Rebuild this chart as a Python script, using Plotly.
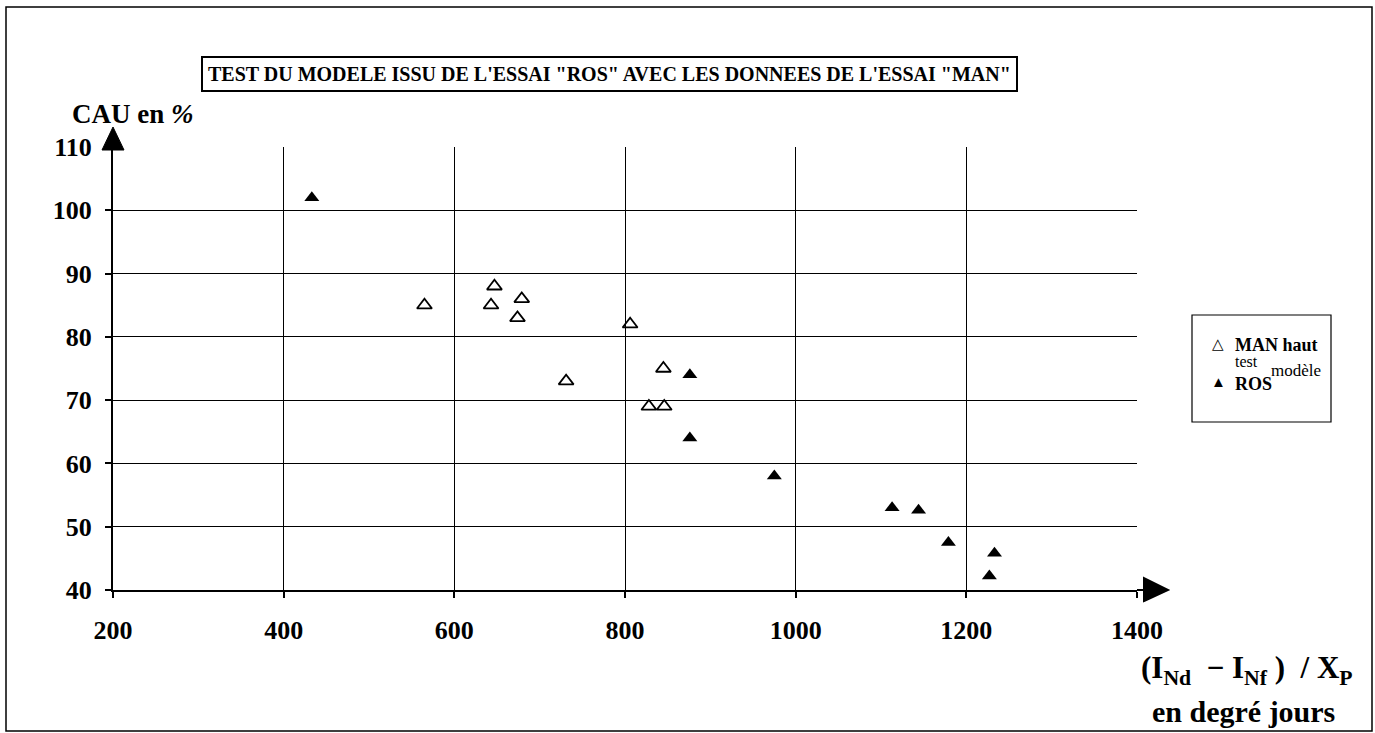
import plotly.graph_objects as go

# MAN haut (test) - open triangles
man_x = [565, 647, 643, 679, 674, 806, 845, 731, 828, 846]
man_y = [85, 88, 85, 86, 83, 82, 75, 73, 69, 69]

# ROS (modele) - filled triangles
ros_x = [433, 876, 876, 975, 1113, 1144, 1179, 1233, 1227]
ros_y = [102, 74, 64, 58, 53, 52.6, 47.5, 45.8, 42.2]

x_ticks = [200, 400, 600, 800, 1000, 1200, 1400]
y_ticks = [40, 50, 60, 70, 80, 90, 100, 110]

title_text = 'TEST DU MODELE ISSU DE L\'ESSAI "ROS" AVEC LES DONNEES DE L\'ESSAI "MAN"'

FONT = "Liberation Serif"
W, H = 1375, 733
L, R, T, B = 113, 1137, 147, 590  # plot area in pixels


def px(x, y):
    """pixel position -> paper coords"""
    return (x - L) / (R - L), (B - y) / (B - T)


def label(x, y, text, size, anchor="left", **kw):
    ax_, ay_ = px(x, y)
    fig.add_annotation(xref="paper", yref="paper", x=ax_, y=ay_, xanchor=anchor, yanchor="middle",
                       showarrow=False, text=text,
                       font=dict(family=FONT, size=size, color="black"), **kw)


fig = go.Figure()
fig.add_trace(go.Scatter(
    x=man_x, y=man_y, mode="markers", name="MAN haut test",
    marker=dict(symbol="triangle-up-open", size=13, color="black", line=dict(width=1.8, color="black")),
))
fig.add_trace(go.Scatter(
    x=ros_x, y=ros_y, mode="markers", name="ROS modèle",
    marker=dict(symbol="triangle-up", size=13, color="black"),
))

axis_common = dict(
    showgrid=True, gridcolor="black", gridwidth=1.4,
    showline=True, linecolor="black", linewidth=2,
    ticks="outside", ticklen=6, tickcolor="black", tickwidth=1.5,
    tickfont=dict(family=FONT, size=26, color="black", weight="bold"),
    zeroline=False,
)

fig.update_layout(
    width=W, height=H,
    margin=dict(l=L, r=W - R, t=T, b=H - B),
    paper_bgcolor="white", plot_bgcolor="white",
    font=dict(family=FONT, color="black"),
    xaxis=dict(range=[200, 1400], tickvals=x_ticks, ticklabelstandoff=10, **axis_common),
    yaxis=dict(range=[40, 110], tickvals=y_ticks, ticklabelstandoff=8, **axis_common),
    showlegend=False,
)

# arrow heads on the axes
fig.add_shape(type="path", xref="paper", yref="paper", xsizemode="pixel", ysizemode="pixel",
              xanchor=0, yanchor=1, path="M -11,-3 L 11,-3 L 0,20 Z",
              fillcolor="black", line=dict(color="black", width=1))
fig.add_shape(type="path", xref="paper", yref="paper", xsizemode="pixel", ysizemode="pixel",
              xanchor=1, yanchor=0, path="M 0,0 L 7,0 M 7,-11 L 31,0 L 7,12 Z",
              fillcolor="black", line=dict(color="black", width=2))

# legend box
x0, y0 = px(1192, 422)
x1, y1 = px(1331, 315)
fig.add_shape(type="rect", xref="paper", yref="paper", x0=x0, y0=y0, x1=x1, y1=y1,
              line=dict(color="black", width=1.2), fillcolor="rgba(0,0,0,0)")

# legend entries
label(1218, 344, "△", 15, anchor="center")
label(1233, 345, "<b>MAN haut</b>", 18)
label(1233, 361, "test", 16)
label(1218, 382, "▲", 15, anchor="center")
label(1233, 384, "<b>ROS</b>", 18)
label(1269, 370, "modèle", 17)

# outer frame
x0, y0 = px(6, 731)
x1, y1 = px(1372, 7)
fig.add_shape(type="rect", xref="paper", yref="paper", x0=x0, y0=y0, x1=x1, y1=y1,
              line=dict(color="black", width=1.5), fillcolor="rgba(0,0,0,0)")

# title box
label(609, 74, "<b>" + title_text + "</b>", 20, anchor="center",
      bordercolor="black", borderwidth=2, borderpad=5, bgcolor="white")

# axis titles
label(70, 114, "<b>CAU en <i>%</i></b>", 27)
label(1355, 670, "<b>(I<sub>Nd</sub>  − I<sub>Nf</sub> )  / X<sub>P</sub></b>", 31, anchor="right")
label(1337, 711, "<b>en degré jours</b>", 30, anchor="right")

fig.write_html("out.html", config={"displayModeBar": False},
               post_script="document.body.style.margin='0';")
